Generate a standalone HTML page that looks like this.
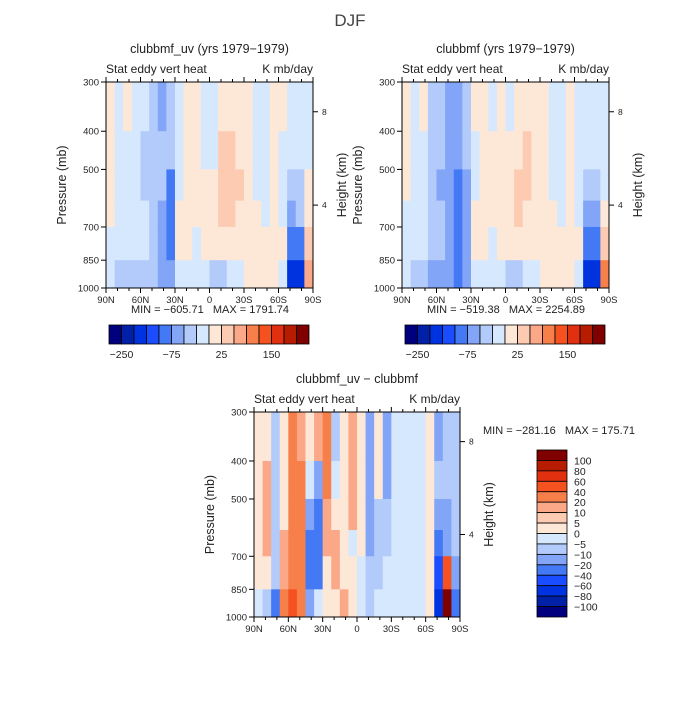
<!DOCTYPE html>
<html><head><meta charset="utf-8"><style>
body{margin:0;background:#fff}
svg text{font-family:"Liberation Sans","DejaVu Sans",sans-serif;fill:#222;white-space:pre}
</style></head><body>
<svg id="s" width="700" height="700" xmlns="http://www.w3.org/2000/svg">
<text x="350" y="26" font-size="17" text-anchor="middle" style="fill:#444">DJF</text>
</svg>
<script>
// ---- data ----
const lats = [90,82.5,75,67.5,60,52.5,45,37.5,30,22.5,15,7.5,0,-7.5,-15,-22.5,-30,-37.5,-45,-52.5,-60,-67.5,-75,-82.5,-90];
const pressureEdges = [300,400,500,600,700,850,1000];
const xTickLabels = ["90N","60N","30N","0","30S","60S","90S"];
const xTickLats = [90,60,30,0,-30,-60,-90];
const pTicks = [300,400,500,700,850,1000];
const hTicks = [8,4];
const hTickPressures = [357,616];
const topLevels = [-250,-200,-150,-100,-75,-50,-25,0,25,50,75,100,150,200,250];
const topLabels = ["-250","-75","25","150"];
const diffLevels = [-100,-80,-60,-40,-20,-10,-5,0,5,10,20,40,60,80,100];
const diffLabels = ["100","80","60","40","20","10","5","0","-5","-10","-20","-40","-60","-80","-100"];
const colors = ["#00007f","#0020a8","#0033e0","#1a4dff","#4479f5","#82a5f7","#b3cbfa","#d6e8fd","#fde8d8","#fccbb2","#faa888","#f77f4a","#f55220","#e03010","#b81c00","#800000"];
// values [column][band 300-400,400-500,500-600,600-700,700-850,850-1000]
const uvField = [
[10,10,10,10,-10,-10],[-10,-10,-10,-10,-10,-30],[10,-10,-10,-10,-10,-40],[-10,-10,-10,-10,-10,-40],
[-10,-40,-40,-10,-10,-40],[-40,-40,-40,-40,-40,-40],[-60,-40,-40,-60,-60,-60],[-40,-40,-90,-90,-90,-60],
[-10,-10,-10,10,10,-10],[10,10,10,10,10,-10],[10,10,10,10,-10,-10],[-10,-10,10,10,10,-10],
[-10,-10,10,10,10,-40],[10,30,30,30,10,-40],[10,30,30,30,10,-10],[10,10,30,10,10,-10],
[10,10,10,10,10,10],[-10,-10,-10,10,10,10],[-10,-10,-10,-10,10,10],[10,10,10,10,10,10],
[10,-10,-10,-10,10,-10],[-10,-10,-40,-60,-90,-200],[-10,-10,-40,-40,-90,-200],[-10,-10,10,10,30,60]];
const mfField = [
[10,10,10,-10,-10,-10],[-10,-10,-10,-10,-10,-40],[10,-10,-10,-10,-10,-40],[-40,-40,-40,-40,-40,-60],
[-40,-40,-60,-40,-40,-60],[-60,-60,-60,-60,-60,-60],[-60,-60,-90,-90,-90,-90],[-40,-40,-60,-60,-60,-60],
[10,-10,-10,10,10,-10],[10,10,10,10,10,-10],[-10,10,10,10,-10,-10],[10,10,10,10,10,-10],
[-10,10,10,10,10,-40],[10,10,30,30,10,-40],[10,30,30,10,10,-10],[10,10,10,10,10,-10],
[10,10,10,10,10,10],[-10,-10,-10,10,10,10],[-10,-10,-10,-10,10,10],[10,10,10,10,10,10],
[-10,-10,-10,-10,10,-10],[-10,-10,-40,-60,-90,-200],[-10,-10,-40,-60,-90,-200],[-10,-10,-10,10,30,80]];
const diffField = [
[3,3,3,3,3,-3],[3,15,15,15,3,-7],[-7,-7,-7,-7,-7,-30],[3,3,3,15,15,30],
[30,30,30,30,30,50],[15,30,30,30,30,30],[3,-3,-15,-30,-30,-15],[15,-15,-30,-30,-30,-3],
[30,30,15,15,3,3],[-7,-3,3,15,15,3],[3,3,3,3,3,15],[15,15,15,-3,3,3],
[3,3,3,3,-3,-3],[-15,-15,-15,-15,-7,-7],[3,3,-7,-7,-7,-3],[-15,-15,-7,-7,-3,-3],
[-3,-3,-3,-3,-3,-3],[-3,-3,-3,-3,-3,-3],[-3,-3,-3,-3,-3,-3],[-3,-3,-3,-3,-3,-3],
[3,3,3,3,3,3],[-15,-7,-15,-30,-50,-70],[-7,-7,-15,-15,50,100],[-7,-7,-7,-7,-15,-30]];

const NS="http://www.w3.org/2000/svg";
const svg=document.getElementById('s');
function el(tag,attrs,parent,txt){const e=document.createElementNS(NS,tag);for(const k in attrs)e.setAttribute(k,attrs[k]);if(txt!==undefined)e.textContent=txt;(parent||svg).appendChild(e);return e;}
function colorFor(v,levels){let i=0;while(i<levels.length&&v>=levels[i])i++;return colors[i];}

function panel(P){
  const g=el('g',{});
  
  
  const W=P.x1-P.x0,H=P.y1-P.y0;
  const xs=lat=>P.x0+(90-lat)/180*W;
  const ys=p=>P.y0+H*Math.log(p/300)/Math.log(1000/300);
  P.field.forEach((col,i)=>{col.forEach((v,j)=>{
    const x=xs(lats[i]),x2=xs(lats[i+1]),y=ys(pressureEdges[j]),y2=ys(pressureEdges[j+1]);
    const r=el('rect',{x:x,y:y,width:x2-x+0.5,height:y2-y+0.5,fill:colorFor(v,P.levels)},g);
    
    
  });});
  el('rect',{x:P.x0,y:P.y0,width:W,height:H,fill:'none',stroke:'#000','stroke-width':1},g);
  for(let lat=90;lat>=-90;lat-=10){const x=xs(lat);const L=lat%30===0?5:3;
    el('line',{x1:x,x2:x,y1:P.y1,y2:P.y1+L,stroke:'#000'},g);
    el('line',{x1:x,x2:x,y1:P.y0,y2:P.y0-L,stroke:'#000'},g);}
  xTickLats.forEach((lat,i)=>{const t=el('text',{x:xs(lat),y:P.y1+15,'font-size':9.5,'text-anchor':'middle'},g,xTickLabels[i]);
    });
  pTicks.forEach(p=>{const y=ys(p);el('line',{x1:P.x0-5,x2:P.x0,y1:y,y2:y,stroke:'#000'},g);
    const t=el('text',{x:P.x0-7,y:y+3.5,'font-size':9.5,'text-anchor':'end'},g,p);
    });
  hTicks.forEach((h,i)=>{const y=ys(hTickPressures[i]);el('line',{x1:P.x1,x2:P.x1+5,y1:y,y2:y,stroke:'#000'},g);
    const t=el('text',{x:P.x1+9,y:y+3,'font-size':8.5},g,h);
    });
  const cy=(P.y0+P.y1)/2;
  let t=el('text',{x:0,y:0,'font-size':12.5,'text-anchor':'middle',transform:`translate(${P.x0-40},${cy}) rotate(-90)`,fill:'#444'},g,'Pressure (mb)');
  
  t=el('text',{x:0,y:0,'font-size':12.5,'text-anchor':'middle',transform:`translate(${P.x1+33},${cy}) rotate(-90)`,fill:'#444'},g,'Height (km)');
  
  t=el('text',{x:(P.x0+P.x1)/2,y:P.y0-29,'font-size':12.5,'text-anchor':'middle'},g,P.title);
  
  t=el('text',{x:P.x0,y:P.y0-9,'font-size':12},g,'Stat eddy vert heat');
  
  t=el('text',{x:P.x1,y:P.y0-9,'font-size':12,'text-anchor':'end'},g,'K mb/day');
  
}
function hbar(x0,y0,w,h,name,cx,minmax){
  const g=el('g',{});
  
  
  const bw=w/16;
  colors.forEach((c,i)=>{const r=el('rect',{x:x0+i*bw,y:y0,width:bw,height:h,fill:c,stroke:'#000','stroke-width':0.8},g);
    });
  topLabels.forEach(l=>{const idx=topLevels.indexOf(Number(l));
    const t=el('text',{x:x0+(idx+1)*bw,y:y0+h+14,'font-size':10.5,'text-anchor':'middle'},g,l.replace('-','−'));
    });
  const t=el('text',{x:cx,y:y0-12,'font-size':11,'text-anchor':'middle'},g,minmax);
  
}
panel({name:'panel-clubbmf-uv',x0:106,x1:313,y0:82,y1:288,field:uvField,levels:topLevels,title:'clubbmf_uv (yrs 1979−1979)'});
panel({name:'panel-clubbmf',x0:402,x1:609,y0:82,y1:288,field:mfField,levels:topLevels,title:'clubbmf (yrs 1979−1979)'});
panel({name:'panel-difference',x0:254,x1:460,y0:412,y1:617,field:diffField,levels:diffLevels,title:'clubbmf_uv − clubbmf'});
hbar(109,325,200,19,'colorbar-left',210,'MIN = −605.71   MAX = 1791.74');
hbar(405,325,200,19,'colorbar-right',506,'MIN = −519.38   MAX = 2254.89');
(function(){
  const g=el('g',{});
  
  
  const x0=537,y0=450,w=30,bh=167/16;
  for(let i=0;i<16;i++){const r=el('rect',{x:x0,y:y0+i*bh,width:w,height:bh,fill:colors[15-i],stroke:'#000','stroke-width':0.8},g);
    }
  diffLabels.forEach((l,i)=>{const t=el('text',{x:574,y:y0+(i+1)*bh+4,'font-size':10.5},g,l.replace('-','−'));
    });
  const t=el('text',{x:483,y:434,'font-size':11},g,'MIN = −281.16   MAX = 175.71');
  
})();
</script>
</body></html>
